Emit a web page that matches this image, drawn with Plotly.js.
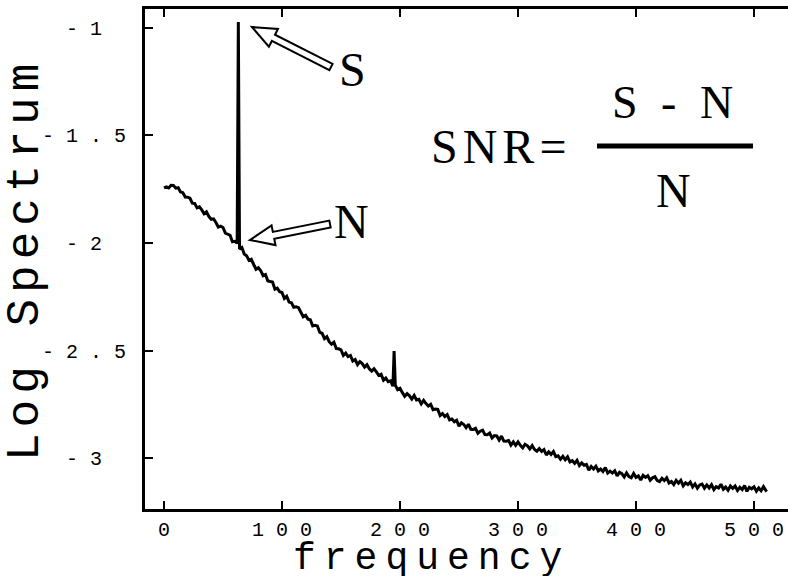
<!DOCTYPE html>
<html>
<head>
<meta charset="utf-8">
<script src="https://cdn.plot.ly/plotly-3.0.1.min.js"></script>
<style>
  html, body { margin: 0; padding: 0; background: #fff; }
  #chart { width: 788px; height: 576px; }
  .annotation[data-index="0"] .annotation-text { letter-spacing: 8px; }
  .annotation[data-index="1"] .annotation-text { letter-spacing: 6px; }
  .annotation[data-index="4"] .annotation-text { letter-spacing: 5px; }
  .annotation[data-index="5"] .annotation-text { letter-spacing: 6px; }
</style>
</head>
<body>
<div id="chart"></div>
<script>
// ---- data ----
const freq = [0,2,4,6,8,10,12,14,16,18,20,22,24,26,28,30,32,34,36,38,40,42,44,46,48,50,52,54,56,58,60,62,63,64,66,68,70,72,74,76,78,80,82,84,86,88,90,92,94,96,98,
  100,102,104,106,108,110,112,114,116,118,120,122,124,126,128,130,132,134,136,138,140,142,144,146,148,150,152,154,156,158,160,162,164,166,168,170,172,174,176,178,180,182,184,186,188,190,192,194,195,196,198,
  200,202,204,206,208,210,212,214,216,218,220,222,224,226,228,230,232,234,236,238,240,242,244,246,248,250,252,254,256,258,260,262,264,266,268,270,272,274,276,278,280,282,284,286,288,290,292,294,296,298,
  300,302,304,306,308,310,312,314,316,318,320,322,324,326,328,330,332,334,336,338,340,342,344,346,348,350,352,354,356,358,360,362,364,366,368,370,372,374,376,378,380,382,384,386,388,390,392,394,396,398,
  400,402,404,406,408,410,412,414,416,418,420,422,424,426,428,430,432,434,436,438,440,442,444,446,448,450,452,454,456,458,460,462,464,466,468,470,472,474,476,478,480,482,484,486,488,490,492,494,496,498,
  500,502,504,506,508,510,511];
const logSpectrum = [
  -1.744,-1.739,-1.744,-1.732,-1.733,-1.745,-1.743,-1.763,-1.766,-1.786,-1.787,-1.792,-1.815,-1.816,-1.837,-1.832,-1.846,-1.864,-1.855,-1.877,
  -1.890,-1.888,-1.905,-1.926,-1.922,-1.928,-1.954,-1.961,-1.964,-1.994,-1.992,-2.001,-0.972,-2.028,-2.021,-2.051,-2.059,-2.081,-2.076,-2.100,
  -2.122,-2.115,-2.129,-2.152,-2.147,-2.177,-2.181,-2.182,-2.215,-2.210,-2.227,
  -2.230,-2.258,-2.248,-2.275,-2.278,-2.299,-2.297,-2.301,-2.325,-2.343,-2.336,-2.354,-2.357,-2.386,-2.383,-2.386,-2.416,-2.420,-2.445,-2.436,
  -2.459,-2.471,-2.462,-2.491,-2.492,-2.497,-2.523,-2.512,-2.528,-2.523,-2.549,-2.542,-2.566,-2.552,-2.561,-2.577,-2.566,-2.585,-2.596,-2.585,
  -2.599,-2.615,-2.610,-2.638,-2.628,-2.645,-2.641,-2.666,-2.502,-2.661,-2.682,
  -2.676,-2.696,-2.713,-2.701,-2.711,-2.726,-2.709,-2.730,-2.727,-2.748,-2.732,-2.747,-2.758,-2.750,-2.775,-2.772,-2.774,-2.802,-2.793,-2.807,
  -2.798,-2.823,-2.819,-2.831,-2.824,-2.852,-2.836,-2.844,-2.859,-2.843,-2.866,-2.867,-2.862,-2.885,-2.875,-2.870,-2.891,-2.892,-2.884,-2.907,
  -2.896,-2.897,-2.916,-2.898,-2.921,-2.922,-2.919,-2.940,-2.925,-2.941,
  -2.925,-2.941,-2.953,-2.936,-2.943,-2.958,-2.942,-2.960,-2.968,-2.956,-2.969,-2.961,-2.986,-2.971,-2.983,-2.970,-2.994,-2.990,-3.006,-2.992,
  -3.008,-2.994,-3.018,-3.012,-3.025,-3.011,-3.035,-3.023,-3.034,-3.030,-3.057,-3.039,-3.051,-3.038,-3.060,-3.051,-3.063,-3.044,-3.070,-3.061,
  -3.070,-3.059,-3.083,-3.066,-3.073,-3.088,-3.069,-3.086,-3.092,-3.072,
  -3.090,-3.083,-3.102,-3.081,-3.090,-3.082,-3.103,-3.092,-3.087,-3.105,-3.110,-3.094,-3.105,-3.092,-3.116,-3.109,-3.123,-3.104,-3.117,-3.104,
  -3.129,-3.115,-3.123,-3.112,-3.134,-3.120,-3.140,-3.125,-3.121,-3.140,-3.125,-3.139,-3.124,-3.147,-3.133,-3.139,-3.122,-3.145,-3.135,-3.150,
  -3.130,-3.141,-3.130,-3.151,-3.136,-3.147,-3.128,-3.155,-3.136,-3.143,
  -3.134,-3.154,-3.139,-3.152,-3.133,-3.150,-3.146];
const xTickVals = [0,100,200,300,400,500];
const xTickText = ["0","1 0 0","2 0 0","3 0 0","4 0 0","5 0 0"];
const yTickVals = [-1,-1.5,-2,-2.5,-3];
const yTickText = ["- 1\u00a0\u00a0","- 1 . 5","- 2\u00a0\u00a0","- 2 . 5","- 3\u00a0\u00a0"];
const xTitle = "frequency";
const yTitle = "Log Spectrum";
const labelS = "S";
const labelN = "N";
const snrLeft = "SNR=";
const snrNum = "S - N";
const snrDen = "N";

// ---- layout helpers (pixel -> paper) ----
const PL = 145, PR = 788, PT = 9, PB = 509;
function px(x) { return (x - PL) / (PR - PL); }
function py(y) { return (PB - y) / (PB - PT); }

function hollowArrow(tip, tail, H, hw, sw) {
  const dx = tail[0] - tip[0], dy = tail[1] - tip[1];
  const L = Math.hypot(dx, dy);
  const ux = dx / L, uy = dy / L, nx = -uy, ny = ux;
  const hb = [tip[0] + H * ux, tip[1] + H * uy];
  const pts = [
    tip,
    [hb[0] + hw * nx, hb[1] + hw * ny],
    [hb[0] + sw * nx, hb[1] + sw * ny],
    [tail[0] + sw * nx, tail[1] + sw * ny],
    [tail[0] - sw * nx, tail[1] - sw * ny],
    [hb[0] - sw * nx, hb[1] - sw * ny],
    [hb[0] - hw * nx, hb[1] - hw * ny]
  ];
  return 'M' + pts.map(p => px(p[0]).toFixed(5) + ',' + py(p[1]).toFixed(5)).join(' L') + ' Z';
}

const mono = "Liberation Mono, Courier New, monospace";
const serif = "Liberation Serif, Times New Roman, serif";

const trace = {
  x: freq, y: logSpectrum, type: 'scatter', mode: 'lines',
  line: { color: '#000', width: 3 }, hoverinfo: 'skip', showlegend: false
};

const layout = {
  width: 788, height: 576,
  margin: { l: PL, r: 788 - PR, t: PT, b: 576 - PB, pad: 0 },
  paper_bgcolor: '#fff', plot_bgcolor: '#fff',
  xaxis: {
    range: [-16.1, 528.8], showgrid: false, zeroline: false,
    showline: true, linecolor: '#000', linewidth: 3, mirror: 'ticks',
    ticks: 'inside', ticklen: 8, tickwidth: 2, tickcolor: '#000',
    tickvals: xTickVals, ticktext: xTickText, ticklabeloverflow: 'allow',
    tickfont: { family: mono, size: 20, color: '#000' }, ticklabelstandoff: 0
  },
  yaxis: {
    range: [-3.237, -0.912], showgrid: false, zeroline: false,
    showline: true, linecolor: '#000', linewidth: 3, mirror: false,
    ticks: 'inside', ticklen: 8, tickwidth: 2, tickcolor: '#000',
    tickvals: yTickVals, ticktext: yTickText, ticklabeloverflow: 'allow',
    tickfont: { family: mono, size: 20, color: '#000' }, ticklabelstandoff: 12
  },
  annotations: [
    { text: xTitle, xref: 'paper', yref: 'paper', x: px(431), y: py(558), xanchor: 'center', yanchor: 'middle', showarrow: false, font: { family: mono, size: 38, color: '#000' } },
    { text: yTitle, xref: 'paper', yref: 'paper', x: px(26), y: py(260), xanchor: 'center', yanchor: 'middle', textangle: -90, showarrow: false, font: { family: mono, size: 46, color: '#000' } },
    { text: labelS, xref: 'paper', yref: 'paper', x: px(352), y: py(69), xanchor: 'center', yanchor: 'middle', showarrow: false, font: { family: serif, size: 48, color: '#000' } },
    { text: labelN, xref: 'paper', yref: 'paper', x: px(351), y: py(221), xanchor: 'center', yanchor: 'middle', showarrow: false, font: { family: serif, size: 48, color: '#000' } },
    { text: snrLeft, xref: 'paper', yref: 'paper', x: px(501), y: py(146), xanchor: 'center', yanchor: 'middle', showarrow: false, font: { family: serif, size: 48, color: '#000' } },
    { text: snrNum, xref: 'paper', yref: 'paper', x: px(675), y: py(102), xanchor: 'center', yanchor: 'middle', showarrow: false, font: { family: serif, size: 46, color: '#000' } },
    { text: snrDen, xref: 'paper', yref: 'paper', x: px(673), y: py(190), xanchor: 'center', yanchor: 'middle', showarrow: false, font: { family: serif, size: 48, color: '#000' } }
  ],
  shapes: [
    { type: 'path', xref: 'paper', yref: 'paper', path: hollowArrow([252, 27], [331, 67], 24, 10, 3.5), line: { color: '#000', width: 2 }, fillcolor: '#fff', layer: 'above' },
    { type: 'path', xref: 'paper', yref: 'paper', path: hollowArrow([250, 240], [330, 224], 24, 10, 3.5), line: { color: '#000', width: 2 }, fillcolor: '#fff', layer: 'above' },
    { type: 'line', xref: 'paper', yref: 'paper', x0: px(597), x1: px(753), y0: py(146), y1: py(146), line: { color: '#000', width: 5 } }
  ]
};

Plotly.newPlot('chart', [trace], layout, { staticPlot: true, displayModeBar: false });
</script>
</body>
</html>
